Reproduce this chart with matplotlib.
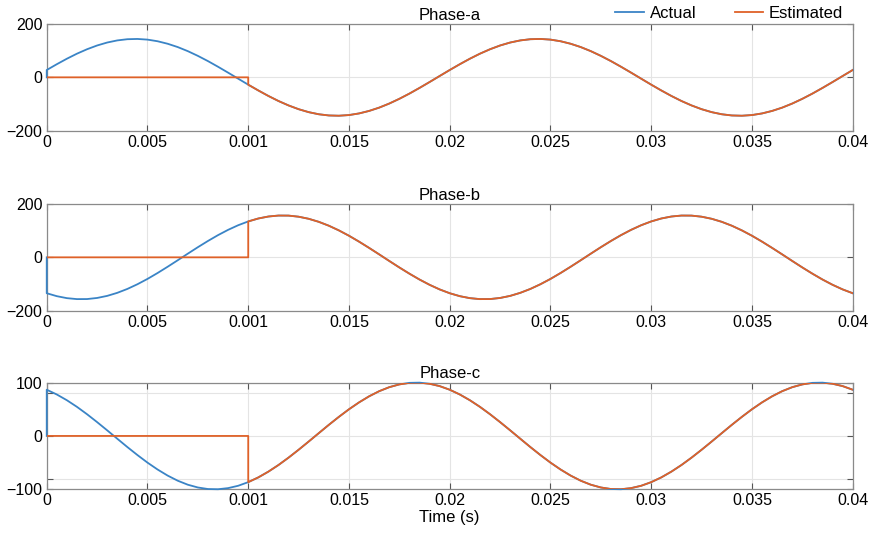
import matplotlib
matplotlib.use("Agg")
import matplotlib.pyplot as plt
import numpy as np

plt.rcParams['font.family'] = ['Liberation Sans', 'DejaVu Sans']

# time axis (s), one sample every 0.5 ms
t = [i * 0.0005 for i in range(81)]

# values
phase_a = [27.5, 49.2, 69.8, 88.7, 105.3, 119.4, 130.5, 138.4, 142.9, 143.9,
           141.4, 135.3, 125.9, 113.5, 98.2, 80.5, 60.9, 39.7, 17.6, -5.0,
           -27.5, -49.2, -69.8, -88.7, -105.3, -119.4, -130.5, -138.4, -142.9, -143.9,
           -141.4, -135.3, -125.9, -113.5, -98.2, -80.5, -60.9, -39.7, -17.6, 5.0,
           27.5, 49.2, 69.8, 88.7, 105.3, 119.4, 130.5, 138.4, 142.9, 143.9,
           141.4, 135.3, 125.9, 113.5, 98.2, 80.5, 60.9, 39.7, 17.6, -5.0,
           -27.5, -49.2, -69.8, -88.7, -105.3, -119.4, -130.5, -138.4, -142.9, -143.9,
           -141.4, -135.3, -125.9, -113.5, -98.2, -80.5, -60.9, -39.7, -17.6, 5.0,
           27.5]
phase_b = [-134.6, -145.6, -153.0, -156.6, -156.4, -152.3, -144.5, -133.1, -118.5, -100.9,
           -80.9, -58.8, -35.3, -11.0, 13.7, 38.0, 61.3, 83.2, 103.0, 120.3,
           134.6, 145.6, 153.0, 156.6, 156.4, 152.3, 144.5, 133.1, 118.5, 100.9,
           80.9, 58.8, 35.3, 11.0, -13.7, -38.0, -61.3, -83.2, -103.0, -120.3,
           -134.6, -145.6, -153.0, -156.6, -156.4, -152.3, -144.5, -133.1, -118.5, -100.9,
           -80.9, -58.8, -35.3, -11.0, 13.7, 38.0, 61.3, 83.2, 103.0, 120.3,
           134.6, 145.6, 153.0, 156.6, 156.4, 152.3, 144.5, 133.1, 118.5, 100.9,
           80.9, 58.8, 35.3, 11.0, -13.7, -38.0, -61.3, -83.2, -103.0, -120.3,
           -134.6]
phase_c = [86.6, 77.7, 66.9, 54.5, 40.7, 25.9, 10.5, -5.2, -20.8, -35.8,
           -50.0, -62.9, -74.3, -83.9, -91.4, -96.6, -99.5, -99.9, -97.8, -93.4,
           -86.6, -77.7, -66.9, -54.5, -40.7, -25.9, -10.5, 5.2, 20.8, 35.8,
           50.0, 62.9, 74.3, 83.9, 91.4, 96.6, 99.5, 99.9, 97.8, 93.4,
           86.6, 77.7, 66.9, 54.5, 40.7, 25.9, 10.5, -5.2, -20.8, -35.8,
           -50.0, -62.9, -74.3, -83.9, -91.4, -96.6, -99.5, -99.9, -97.8, -93.4,
           -86.6, -77.7, -66.9, -54.5, -40.7, -25.9, -10.5, 5.2, 20.8, 35.8,
           50.0, 62.9, 74.3, 83.9, 91.4, 96.6, 99.5, 99.9, 97.8, 93.4,
           86.6]

est_start = 0.01  # estimator output is zero before this time

titles = ["Phase-a", "Phase-b", "Phase-c"]
ylims = [200, 200, 100]
xticks = [0, 0.005, 0.01, 0.015, 0.02, 0.025, 0.03, 0.035, 0.04]
xticklabels = ["0", "0.005", "0.001", "0.015", "0.02", "0.025", "0.03", "0.035", "0.04"]

blue = '#3A84C6'
orange = '#DF6128'
spine_col = '#8a8a8a'

fig = plt.figure(figsize=(8.72, 5.33), dpi=100)
left, width, height = 0.0536, 0.9243, 0.2002
bottoms = [0.7548, 0.4171, 0.0820]

tt = np.array(t)
for i, (vals, title, lim) in enumerate(zip([phase_a, phase_b, phase_c], titles, ylims)):
    ax = fig.add_axes([left, bottoms[i], width, height])
    vals = np.array(vals)
    # actual signal starts from 0 at t = 0
    ax.plot(np.r_[0, tt], np.r_[0, vals], color=blue, lw=1.3, label='Actual',
            zorder=3, clip_on=False)
    keep = tt >= est_start
    t_est = np.r_[0, est_start, tt[keep]]
    v_est = np.r_[0, 0, vals[keep]]
    ax.plot(t_est, v_est, color=orange, lw=1.3, label='Estimated', zorder=4)

    ax.set_xlim(0, 0.04)
    ax.set_ylim(-lim, lim)
    ax.set_xticks(xticks)
    ax.set_xticklabels(xticklabels)
    ax.set_yticks([-lim, 0, lim])
    ax.set_yticklabels(["\u2212%d" % lim, "0", "%d" % lim])
    if lim == 100:
        ax.set_yticks([-80, 80], minor=True)
        ax.grid(True, which='minor', axis='y', color='#e4e4e4', lw=0.8)
    ax.grid(True, which='major', color='#e4e4e4', lw=0.8)
    ax.set_axisbelow(True)
    ax.tick_params(which='both', direction='in', top=True, right=True,
                   length=4, width=0.8, color='#555555', labelsize=11.5, pad=3)
    for s in ax.spines.values():
        s.set_color(spine_col)
        s.set_linewidth(0.9)
    ax.set_title(title, fontsize=12, pad=3)
    if i == 0:
        handles, labels = ax.get_legend_handles_labels()
    if i == 2:
        ax.set_xlabel("Time (s)", fontsize=12, labelpad=1)

fig.legend(handles, labels, loc='center right', bbox_to_anchor=(843 / 872, 1 - 13 / 533),
           ncol=2, frameon=False, fontsize=12, handlelength=1.7, columnspacing=2.3,
           handletextpad=0.35, borderpad=0, borderaxespad=0)

fig.savefig("out.png", dpi=100)
